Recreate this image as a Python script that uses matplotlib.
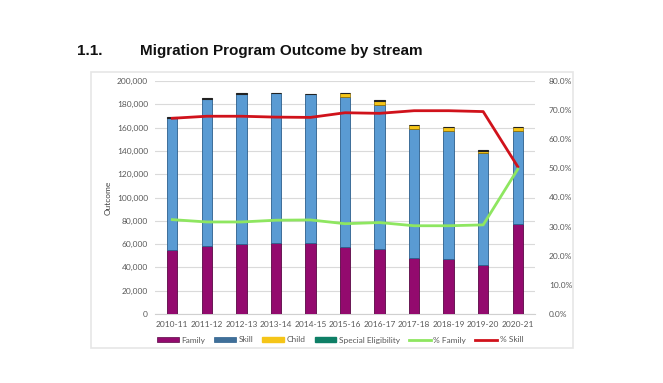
import matplotlib
matplotlib.use("Agg")
import matplotlib.pyplot as plt
from matplotlib.patches import Rectangle, Patch
from matplotlib.lines import Line2D
from matplotlib.ticker import FuncFormatter
import numpy as np

years = ["2010-11", "2011-12", "2012-13", "2013-14", "2014-15", "2015-16",
         "2016-17", "2017-18", "2018-19", "2019-20", "2020-21"]
family = [54543, 58604, 60185, 61112, 61085, 57400, 56220, 47732, 47247, 41961, 77372]
skill = [113725, 125755, 128973, 128550, 127774, 128550, 123567, 111099, 109713, 95843, 79620]
child = [0, 0, 0, 0, 0, 3512, 3350, 3350, 3350, 2481, 3350]
special = [417, 639, 842, 338, 238, 308, 421, 236, 236, 155, 21]
pct_skill = [67.2, 67.9, 67.9, 67.6, 67.5, 69.1, 68.9, 69.8, 69.8, 69.5, 50.6]
pct_family = [32.4, 31.6, 31.6, 32.2, 32.3, 31.0, 31.4, 30.3, 30.3, 30.6, 49.7]

W, H = 663, 383
fig = plt.figure(figsize=(W / 100, H / 100), dpi=100)
fig.patch.set_facecolor("white")

def px(x0, y0, x1, y1):
    return [x0 / W, 1 - y1 / H, (x1 - x0) / W, (y1 - y0) / H]

# document frame
fig.patches.append(Rectangle((91 / W, 1 - 348 / H), (573 - 91) / W, (348 - 72) / H,
                             transform=fig.transFigure, fill=False,
                             edgecolor="#E6E6E6", linewidth=1.2))

fig.text(77 / W, 1 - 51 / H, "1.1.", fontsize=11, fontweight="bold",
         family="Liberation Sans", va="center", ha="left", color="#111111")
fig.text(140 / W, 1 - 51 / H, "Migration Program Outcome by stream", fontsize=11,
         fontweight="bold", family="Liberation Sans", va="center", ha="left",
         color="#111111")

FS = 6.0
ax = fig.add_axes(px(155, 81, 535, 314))
x = np.arange(len(years))
bw = 0.3
c_fam, c_sk, c_ch, c_sp = "#930A6E", "#5A9BD3", "#F5C518", "#0E7F66"
e_fam, e_sk, e_ch = "#5A0644", "#2C5F8C", "#8A6A00"

fam = np.array(family); sk = np.array(skill); ch = np.array(child); sp = np.array(special)
ax.bar(x, fam, bw, color=c_fam, edgecolor=e_fam, linewidth=0.6, zorder=3)
ax.bar(x, sk, bw, bottom=fam, color=c_sk, edgecolor=e_sk, linewidth=0.6, zorder=3)
ax.bar(x, ch, bw, bottom=fam + sk, color=c_ch, edgecolor=e_ch, linewidth=0.5, zorder=3)
ax.bar(x, sp, bw, bottom=fam + sk + ch, color="#222222", edgecolor="#222222",
       linewidth=0.8, zorder=3)

ax.set_xlim(-0.5, len(years) - 0.5)
ax.set_ylim(0, 200000)
ax.set_yticks(np.arange(0, 200001, 20000))
ax.yaxis.set_major_formatter(FuncFormatter(lambda v, p: f"{int(v):,}"))
ax.set_xticks(x)
ax.set_xticklabels(years)
ax.grid(axis="y", color="#DADADA", linewidth=0.8, zorder=0)
for s in ["top", "right", "left"]:
    ax.spines[s].set_visible(False)
ax.spines["bottom"].set_color("#D0D0D0")
ax.tick_params(axis="both", length=0, labelsize=FS, colors="#595959", pad=5)
for lab in ax.get_xticklabels() + ax.get_yticklabels():
    lab.set_family("Lato")
ax.set_ylabel("Outcome", fontsize=FS, color="#404040", family="Lato", labelpad=4)

ax2 = ax.twinx()
ax2.set_ylim(0, 80)
ax2.set_yticks(np.arange(0, 81, 10))
ax2.yaxis.set_major_formatter(FuncFormatter(lambda v, p: f"{v:.1f}%"))
ax2.plot(x, pct_skill, color="#D0121B", linewidth=2.0, zorder=4)
ax2.plot(x, pct_family, color="#8EE660", linewidth=2.0, zorder=4)
for s in ["top", "right", "left", "bottom"]:
    ax2.spines[s].set_visible(False)
ax2.tick_params(axis="y", length=0, labelsize=FS, colors="#595959", pad=10)
for lab in ax2.get_yticklabels():
    lab.set_family("Lato")

handles = [Patch(facecolor=c_fam, edgecolor=e_fam, linewidth=0.5),
           Patch(facecolor="#3F6F99", edgecolor=e_sk, linewidth=0.5),
           Patch(facecolor=c_ch, edgecolor=c_ch),
           Patch(facecolor=c_sp, edgecolor=c_sp),
           Line2D([], [], color="#8EE660", linewidth=2),
           Line2D([], [], color="#D0121B", linewidth=2)]
labels = ["Family", "Skill", "Child", "Special Eligibility", "% Family", "% Skill"]
fig.legend(handles, labels, loc="center left", bbox_to_anchor=(157 / W, 1 - 340 / H),
           ncol=6, frameon=False, handlelength=2.6, handleheight=0.5,
           handletextpad=0.3, columnspacing=1.1, prop={"family": "Lato", "size": FS},
           labelcolor="#595959", borderaxespad=0, borderpad=0)

fig.savefig("out.png", dpi=100, facecolor="white")
